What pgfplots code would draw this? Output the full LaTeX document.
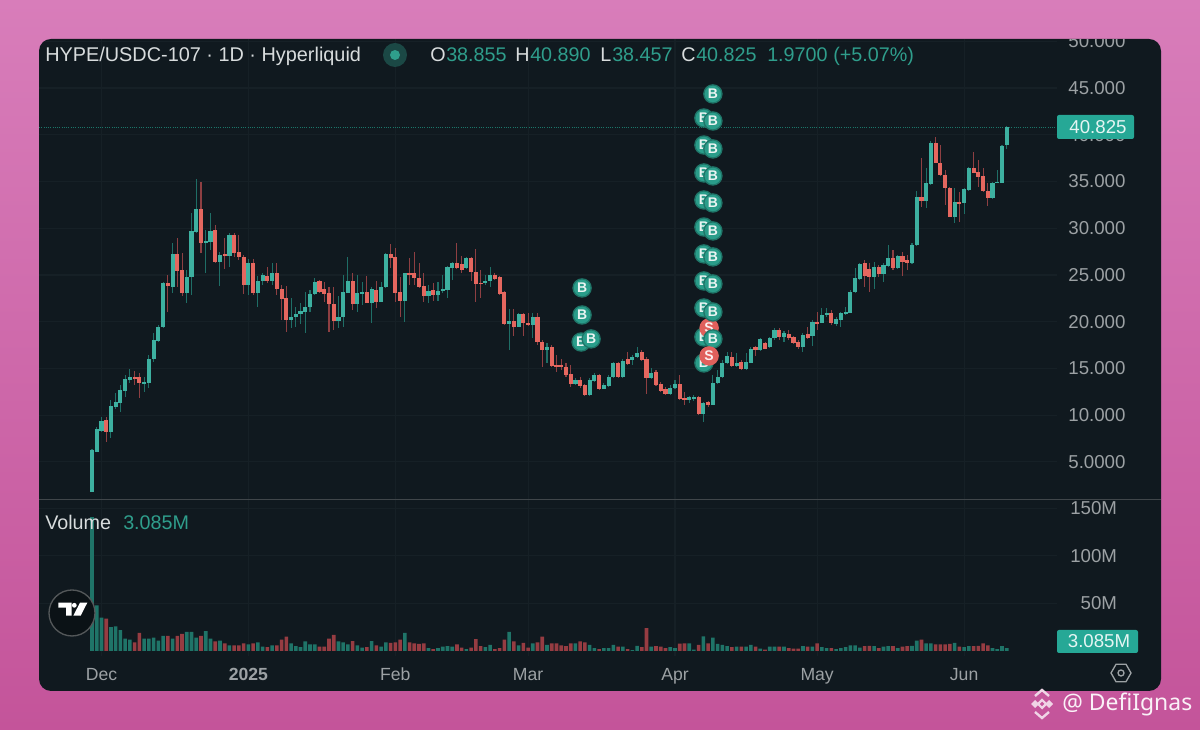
\documentclass[border=0pt]{standalone}
\usepackage{fontspec}
\setmainfont{Liberation Sans}
\newfontfamily\wm{Noto Sans}
\usepackage{pgfplots}
\usepackage{pgfplotstable}
\pgfplotsset{compat=1.18}
\definecolor{pinkT}{HTML}{D87DBA}
\definecolor{pinkB}{HTML}{C4549A}
\definecolor{panel}{HTML}{10191F}
\definecolor{gridc}{HTML}{162026}
\definecolor{tickc}{HTML}{9CA1A4}
\definecolor{headc}{HTML}{D8DCDD}
\definecolor{upB}{HTML}{3DB0A0}
\definecolor{upW}{HTML}{1F6E66}
\definecolor{dnB}{HTML}{E5675F}
\definecolor{dnW}{HTML}{8E3F42}
\definecolor{upV}{HTML}{1F7468}
\definecolor{dnV}{HTML}{963C42}
\definecolor{upTxt}{HTML}{2F9E8C}
\definecolor{tagc}{HTML}{26A896}
\definecolor{mkB}{HTML}{2A9D8A}
\definecolor{mkH}{HTML}{1F7568}
\definecolor{mkS}{HTML}{E0605C}
\pgfplotstableread{
d o h l c v
0 1.83 6.36 1.83 6.28 141
1 6.11 8.78 6.11 8.49 48
2 8.35 9.85 8.24 9.42 35
4 8.24 11.63 7.53 11.03 25
5 10.92 12.34 10.63 11.38 26
6 11.27 13.24 10.38 12.70 22
7 12.63 14.31 11.99 13.84 13
8 13.77 14.91 13.41 14.06 12
11 13.41 14.13 12.52 13.56 13
12 13.41 16.44 12.88 16.05 13
13 15.98 18.76 15.73 18.05 14
14 17.98 19.65 17.87 19.47 11
15 19.40 24.29 19.30 24.11 16
17 23.75 28.46 23.04 27.21 13
20 23.04 25.53 21.97 24.82 20
21 24.82 31.60 22.86 29.74 20
22 29.63 35.23 29.46 32.02 14
24 28.39 29.81 25.18 28.60 21
25 28.57 31.60 27.67 29.74 13
27 26.43 27.50 23.82 27.17 11
29 27.03 29.46 25.82 29.24 6
33 23.93 26.68 22.86 26.32 7
35 23.11 24.89 21.61 24.39 9
36 24.39 25.18 23.93 24.96 4.5
38 24.39 26.25 23.93 25.18 6
42 20.19 22.50 19.30 20.54 8
43 20.54 21.61 19.40 20.83 5
44 20.83 21.97 19.76 21.11 4
45 21.08 23.22 18.83 21.61 10
46 21.54 23.40 21.08 22.97 7
47 22.97 24.64 22.86 24.29 7
52 20.11 22.75 19.29 20.54 10
53 20.47 25.00 19.47 23.18 9
54 23.11 26.96 23.04 24.36 7
56 21.90 25.00 21.08 23.11 6
57 23.04 24.28 21.79 23.18 3.5
59 22.04 23.75 19.83 23.46 10.5
61 22.15 24.28 22.15 23.75 4.5
62 23.68 27.31 23.57 27.24 9
66 22.18 25.25 20.01 25.18 19
71 22.79 23.93 22.04 23.32 3
73 22.86 24.28 22.25 23.32 3
74 23.25 25.00 23.04 23.46 4.5
75 23.39 25.96 22.50 25.82 5
76 25.75 26.35 24.46 26.24 4.5
79 25.75 26.89 25.60 26.82 2
83 24.11 25.00 23.93 24.39 4
84 24.32 25.89 23.68 24.96 6.5
88 19.76 21.33 16.98 20.11 20
90 19.47 20.90 19.40 20.83 6
93 19.61 20.90 18.22 20.54 8
96 16.98 17.69 15.55 17.26 6.5
102 13.34 13.94 13.23 13.77 8
105 12.16 13.94 12.05 13.77 6.5
106 13.69 14.48 13.59 14.30 3
108 12.84 13.41 12.77 13.20 3
109 13.12 14.30 13.05 14.12 3
110 14.05 15.73 13.94 15.55 6.5
112 14.05 15.98 13.94 15.83 4.5
114 15.90 16.44 15.37 16.26 1
115 16.19 17.33 16.08 16.69 5.5
118 13.94 15.01 13.84 14.55 4.5
122 12.27 13.23 12.16 12.95 4
123 12.87 13.77 12.77 13.34 3
126 11.63 12.05 11.27 11.91 8
127 11.70 12.16 11.56 11.98 1.5
129 10.13 11.45 9.31 11.34 15.5
131 11.13 14.30 11.09 13.48 14
132 13.41 14.83 13.34 14.12 7.5
133 14.05 15.90 13.94 15.62 6.5
134 15.55 16.80 15.48 16.33 5
136 15.30 16.62 15.19 15.62 4.5
138 14.91 16.62 14.83 15.69 4.5
139 15.62 17.26 15.55 17.12 6.5
141 16.97 18.22 16.90 18.11 2.5
143 17.34 18.41 17.16 18.23 4.5
144 18.23 19.30 18.05 19.12 4.5
146 18.41 19.05 17.87 18.76 4.5
150 17.27 18.76 16.80 18.59 5
152 18.48 20.19 17.41 20.01 4.5
154 19.90 21.44 19.83 20.72 4
155 20.69 21.44 20.55 20.97 3
157 19.76 20.55 19.55 20.26 2
158 20.19 21.08 19.48 20.90 3
159 20.83 21.62 20.76 21.08 4
160 20.97 23.40 20.90 23.22 6
161 23.15 25.72 23.04 24.65 6
162 24.57 26.32 24.47 26.18 3.5
165 24.75 26.43 23.47 25.82 5
167 25.07 26.25 24.29 26.07 4.5
168 25.97 28.21 25.89 26.79 5
170 25.79 27.14 25.61 27.07 3
173 26.32 28.39 26.18 28.21 5.5
174 28.21 34.02 28.10 33.38 11
176 32.95 36.41 32.13 34.81 8
177 34.74 39.37 34.63 39.16 8
182 31.24 34.27 30.60 32.81 8.5
184 32.67 34.27 31.53 34.16 4
185 34.09 36.59 34.02 36.48 5
190 33.20 34.98 33.10 34.88 3
191 34.84 36.23 34.81 34.98 2
192 34.88 38.91 34.81 38.80 5
193 38.855 40.890 38.457 40.825 3.085
}\upT
\pgfplotstableread{
d o h l c v
3 9.49 9.78 7.18 8.24 34
9 14.13 14.73 13.24 13.84 9
10 14.06 14.48 11.81 13.41 19
16 24.11 25.00 21.08 23.82 16
18 27.21 28.92 23.75 25.46 16
19 25.53 27.39 22.75 23.11 18
23 32.02 34.98 27.32 28.39 16
26 29.81 30.35 26.25 26.43 10
28 27.25 28.92 25.61 27.03 8
30 29.28 29.53 26.89 27.32 6
31 27.46 29.28 26.60 26.89 6
32 26.96 27.14 22.97 23.93 8
34 26.32 26.68 22.86 23.04 8
37 24.89 25.89 24.11 24.36 4
39 25.18 26.25 22.86 23.47 6
40 23.47 23.93 20.19 22.40 12
41 22.50 23.82 18.87 20.19 15
48 24.39 24.46 23.04 23.21 4.5
49 23.46 24.28 22.15 22.97 4.5
50 23.04 23.75 18.94 21.90 13
51 21.90 23.75 19.11 20.11 17
55 24.36 25.25 21.25 21.90 10.5
58 23.14 24.93 21.97 22.04 4
60 23.39 24.39 21.43 22.15 6
63 27.24 28.31 25.71 26.82 8.5
64 26.89 27.85 22.15 23.11 9
65 23.18 24.82 20.47 22.18 12
67 25.18 26.78 23.93 25.03 9
68 25.18 27.49 23.93 24.64 8
69 24.71 26.24 23.57 23.75 7.5
70 23.82 25.18 22.15 22.79 8
72 23.39 24.11 22.25 22.86 2
77 26.24 28.38 25.60 25.71 7
78 26.17 27.03 25.25 25.53 3.5
80 26.82 26.96 24.39 25.35 3.5
81 25.35 27.74 22.15 24.03 12.5
82 24.18 25.53 22.50 24.03 5
85 25.03 25.18 24.46 24.61 2
86 24.82 24.89 22.86 22.97 3
87 23.18 23.32 19.65 19.76 12
89 20.11 21.33 18.47 19.47 10
91 20.83 20.90 18.47 19.83 8.5
92 19.90 20.90 19.54 19.62 3.5
94 20.54 20.90 17.51 17.87 9
95 17.87 18.05 15.19 16.98 15
97 17.26 17.51 15.12 15.26 8
98 15.37 16.44 14.66 15.12 8
99 15.33 15.98 14.83 15.12 6
100 15.12 15.55 14.12 14.26 5
101 14.41 15.37 13.05 13.34 8
103 13.77 14.12 12.87 13.12 10
104 13.20 13.34 12.05 12.16 9
107 14.30 14.41 12.70 12.77 2
111 15.55 15.73 13.94 14.05 4.5
113 15.98 16.80 15.37 15.48 2
116 16.76 16.97 15.83 15.90 4
117 16.05 16.19 12.27 13.94 24
119 14.62 14.83 13.12 13.23 5
120 13.34 13.59 12.52 12.62 4.5
121 12.77 12.98 12.16 12.27 3
124 13.34 14.30 11.63 11.70 7.7
125 11.84 12.52 11.09 11.70 8
128 11.98 12.05 10.02 10.09 6.5
130 11.41 11.52 10.91 11.06 8
135 16.26 16.80 15.19 15.26 4
137 15.69 15.90 14.83 14.91 4.5
140 17.26 17.40 16.33 16.97 4.5
142 17.69 17.87 17.05 17.12 1.5
145 19.12 19.30 18.05 18.34 4.5
147 18.69 19.12 18.05 18.23 3
148 18.41 18.48 17.62 17.77 2.5
149 17.87 18.05 17.05 17.27 2.5
151 18.69 19.41 18.12 18.23 4.5
153 20.01 21.08 19.12 19.76 8
156 20.97 21.26 19.66 19.83 3
163 26.25 26.61 23.75 24.90 5
164 25.61 26.25 23.22 24.82 5.5
166 25.82 26.07 24.82 25.11 3
169 26.79 27.68 25.54 25.72 5
171 27.07 27.50 24.90 26.43 4.5
172 26.61 27.14 25.54 26.32 5
175 33.38 37.48 32.24 32.95 12
178 39.16 39.80 36.95 37.02 7
179 37.02 38.91 35.59 35.70 7
180 35.70 36.23 32.49 34.27 7
181 34.34 34.45 31.17 31.24 7.5
183 32.81 33.92 30.71 32.67 4.5
186 36.48 38.19 35.88 35.95 5
187 36.02 37.30 34.45 35.52 5.5
188 35.59 36.41 33.92 34.02 8
189 34.02 34.81 32.38 33.20 6
}\dnT
\pgfplotsset{
  chartbase/.style={
    scale only axis, width=763.5pt,
    xmin=-11.18, xmax=203.6,
    axis line style={draw=none},
    tick style={draw=none},
    grid=major, major grid style={draw=gridc, line width=0.8pt},
    xtick={2,33,64,92,123,153,184},
    xticklabel style={text=tickc, font=\fontsize{13.2}{15}\selectfont},
    yticklabel style={text=tickc, font=\fontsize{14}{16}\selectfont},
    ytick pos=right, yticklabel pos=right,
  },
  wick/.style={draw=none, forget plot, error bars/.cd, y dir=both, y explicit, error mark=none,
    error bar style={draw=#1, line width=0.8pt, solid}},
  body/.style={draw=none, forget plot, error bars/.cd, y dir=both, y explicit, error mark=none,
    error bar style={draw=#1, line width=3.1pt, solid}},
  sig/.style n args={3}{only marks, forget plot, mark=*, mark size=6.8pt,
    mark options={fill=#1, draw=#2, line width=1pt},
    nodes near coords={#3},
    nodes near coords align={anchor=center},
    every node near coord/.append style={anchor=center, inner sep=0pt, text=white!90!#1,
      font=\fontsize{10.5}{10}\bfseries\selectfont}},
}
\begin{document}
\begin{tikzpicture}[x=0.75pt,y=0.75pt]
\useasboundingbox (0,0) rectangle (1200,730);
\shade[top color=pinkT,bottom color=pinkB] (0,0) rectangle (1200,730);
\fill[panel,rounded corners=9pt] (39,39) rectangle (1161,691);
\begin{scope}
\clip[rounded corners=9pt] (39,39) rectangle (1161,691);
% price panel
\begin{axis}[chartbase, at={(29.25pt,173.25pt)}, anchor=south west, height=345pt,
  ymin=1.04, ymax=50.24,
  xticklabels={},
  ytick={5,10,15,20,25,30,35,40,45,50},
  yticklabels={5.0000,10.000,15.000,20.000,25.000,30.000,35.000,40.000,45.000,50.000},
  yticklabel style={anchor=west, xshift=5pt},
]
\addplot[densely dotted, color=tagc!70!black, line width=0.7pt, forget plot] coordinates {(-11.18,40.825) (203.6,40.825)};
\addplot[wick=upW] table[x=d, y expr=(\thisrow{h}+\thisrow{l})/2, y error expr=(\thisrow{h}-\thisrow{l})/2] {\upT};
\addplot[wick=dnW] table[x=d, y expr=(\thisrow{h}+\thisrow{l})/2, y error expr=(\thisrow{h}-\thisrow{l})/2] {\dnT};
\addplot[body=upB] table[x=d, y expr=(\thisrow{o}+\thisrow{c})/2, y error expr=(\thisrow{c}-\thisrow{o})/2] {\upT};
\addplot[body=dnB] table[x=d, y expr=(\thisrow{o}+\thisrow{c})/2, y error expr=(\thisrow{o}-\thisrow{c})/2] {\dnT};
% buy and sell signals
\addplot[sig={mkB}{mkH}{B}] coordinates {(103.4,23.61) (103.4,20.72) (103.2,17.83)};
\addplot[sig={mkB}{mkH}{B}] coordinates {(105.3,18.16)};
\addplot[sig={mkB}{mkH}{B}] coordinates {(129.1,41.79) (129.1,38.90) (129.1,35.91) (129.1,33.02) (129.1,30.13) (129.1,27.25) (129.1,24.36) (129.1,21.47) (129.1,18.37) (129.1,15.59)};
\addplot[sig={mkS}{mkS}{S}] coordinates {(130.2,19.33)};
\addplot[sig={mkB}{mkH}{B}] coordinates {(131.0,44.36) (131.0,41.47) (131.0,38.48) (131.0,35.59) (131.0,32.70) (131.0,29.71) (131.0,26.93) (131.0,24.04) (131.0,21.04) (131.0,18.16)};
\addplot[sig={mkS}{mkS}{S}] coordinates {(130.2,16.34)};
\end{axis}
% volume panel
\begin{axis}[chartbase, at={(29.25pt,55.5pt)}, anchor=south west, height=117pt,
  ymin=-5.26, ymax=158.9,
  xticklabels={Dec,{\bfseries 2025},Feb,Mar,Apr,May,Jun},
  xticklabel style={anchor=base, yshift=-18.5pt},
  ytick={50,100,150},
  yticklabels={50M,100M,150M},
  yticklabel style={anchor=east, xshift=48.5pt},
]
\addplot[ybar, bar width=2.7pt, bar shift=0pt, fill=upV, draw=none, forget plot] table[x=d,y=v] {\upT};
\addplot[ybar, bar width=2.7pt, bar shift=0pt, fill=dnV, draw=none, forget plot] table[x=d,y=v] {\dnT};
\end{axis}
\draw[color=gridc!60!gray, line width=0.8pt] (39,230.5) -- (1161,230.5);
\end{scope}
% header
\node[anchor=base west, inner sep=0pt, text=headc, font=\fontsize{14.9}{16}\selectfont] at (45,668) {HYPE/USDC-107 · 1D · Hyperliquid};
\fill[upTxt!35!panel] (395,675) circle (12);
\fill[upTxt] (395,675) circle (5);
\begin{scope}[every node/.style={anchor=base west, inner sep=0pt, font=\fontsize{14.8}{16}\selectfont}]
\node[text=headc] at (430,668) {O};
\node[text=upTxt] at (446,668) {38.855};
\node[text=headc] at (515,668) {H};
\node[text=upTxt] at (530,668) {40.890};
\node[text=headc] at (600,668) {L};
\node[text=upTxt] at (612,668) {38.457};
\node[text=headc] at (681,668) {C};
\node[text=upTxt] at (696,668) {40.825};
\node[text=upTxt] at (767,668) {1.9700};
\node[text=upTxt] at (833,668) {(+5.07\%)};
\node[text=headc] at (45,200) {Volume};
\node[text=upTxt] at (123,200) {3.085M};
\end{scope}
% price and volume tags
\fill[tagc,rounded corners=1.5pt] (1057,591) rectangle (1134,615);
\node[text=white!88!tagc, font=\fontsize{14}{16}\selectfont] at (1098,603) {40.825};
\fill[tagc,rounded corners=1.5pt] (1057,77) rectangle (1138,100);
\node[text=white!88!tagc, font=\fontsize{14}{16}\selectfont] at (1099,88.5) {3.085M};
% TradingView badge
\fill[panel!70!black] (72,117) circle (23);
\draw[color=gray!60!panel, line width=1pt] (72,117) circle (23);
\fill[white] (58.3,127.3) -- (71.7,127.3) -- (71.7,114.3) -- (66,114.3) -- (66,122.3) -- (58.3,122.3) -- cycle;
\fill[white] (74.3,124.7) circle (2.4);
\fill[white] (80,127.3) -- (87.3,127.3) -- (80.7,114.3) -- (73.3,114.3) -- cycle;
% settings icon
\draw[color=tickc, line width=1pt] (1131,57) -- (1126,48.3) -- (1116,48.3) -- (1111,57) -- (1116,65.7) -- (1126,65.7) -- cycle;
\draw[color=tickc, line width=1pt] (1121,57) circle (3);
% watermark
\node[anchor=base west, inner sep=0pt, text=white!92!pinkB, font=\wm\fontsize{17.2}{20}\selectfont] at (1062,19) {@ DefiIgnas};
\begin{scope}
\fill[white!75!pinkB] (1031,26) -- (1035,30) -- (1039,26) -- (1035,22) -- cycle;
\fill[white!75!pinkB] (1045,26) -- (1049,30) -- (1053,26) -- (1049,22) -- cycle;
\draw[white!75!pinkB, line width=1.6pt] (1042,30) -- (1046,26) -- (1042,22) -- (1038,26) -- cycle;
\draw[white!75!pinkB, line width=1.8pt] (1035,34) -- (1042,40) -- (1049,34);
\draw[white!75!pinkB, line width=1.8pt] (1035,18) -- (1042,12) -- (1049,18);
\end{scope}
\end{tikzpicture}
\end{document}
